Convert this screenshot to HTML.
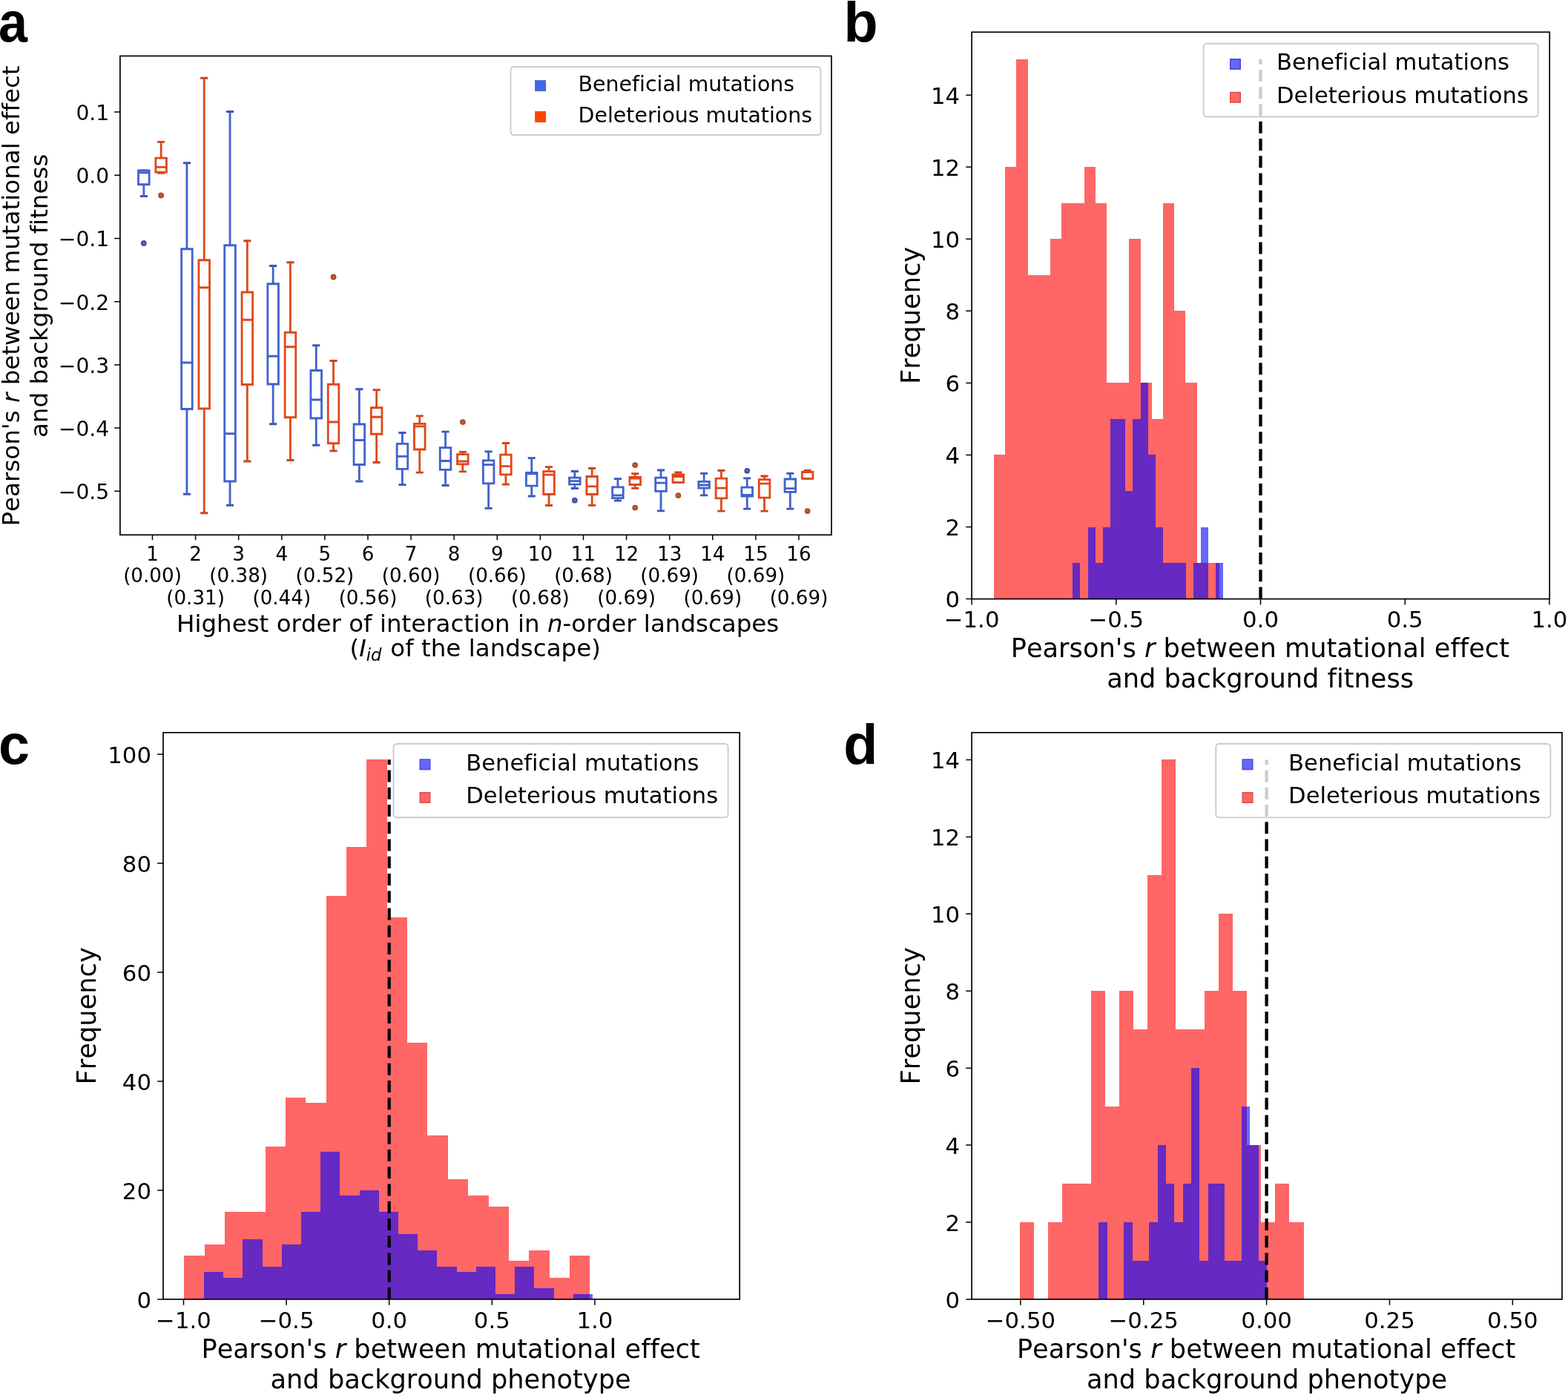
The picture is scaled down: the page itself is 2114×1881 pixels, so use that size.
<!DOCTYPE html>
<html lang="en"><head><meta charset="utf-8"><title>Figure: correlation between mutational effect and background fitness</title>
<style>html,body{margin:0;padding:0;background:#fff}body{width:2114px;height:1881px;overflow:hidden}svg{display:block}text{font-family:'DejaVu Sans','Liberation Sans',sans-serif;fill:#000;font-variant-ligatures:none;font-kerning:none}</style>
</head><body>
<svg width="2114" height="1881" viewBox="0 0 2114 1881">
<rect width="2114" height="1881" fill="#fff"/>
<g id="panel-a">
<g fill="none" stroke-linecap="square" stroke-linejoin="miter">
<path d="M190.20 229.80H197.50M190.20 264.50H197.50M248.30 219.75H255.60M248.30 666.25H255.60M306.40 150.50H313.70M306.40 681.25H313.70M364.50 358.50H371.80M364.50 571.75H371.80M422.60 465.75H429.90M422.60 600.25H429.90M480.70 524.75H488.00M480.70 649.00H488.00M538.80 583.50H546.10M538.80 653.70H546.10M596.90 582.20H604.20M596.90 654.50H604.20M655.00 608.80H662.30M655.00 685.30H662.30M713.10 617.70H720.40M713.10 669.00H720.40M771.20 635.50H778.50M771.20 658.50H778.50M829.30 645.60H836.60M829.30 675.10H836.60M887.40 634.00H894.70M887.40 688.80H894.70M945.50 638.30H952.80M945.50 667.80H952.80M1003.60 644.90H1010.90M1003.60 686.20H1010.90M1061.70 638.30H1069.00M1061.70 686.20H1069.00" stroke="#3a56b6" stroke-width="2.8"/>
<path d="M193.85 248.75V264.50M251.95 219.75V335.75M251.95 551.50V666.25M310.05 150.50V330.75M310.05 649.00V681.25M368.15 358.50V382.75M368.15 518.00V571.75M426.25 465.75V499.50M426.25 564.00V600.25M484.35 524.75V572.00M484.35 626.50V649.00M542.45 583.50V598.40M542.45 632.40V653.70M600.55 582.20V603.60M600.55 633.40V654.50M658.65 608.80V620.90M658.65 651.80V685.30M716.75 617.70V637.30M716.75 655.20V669.00M774.85 635.50V644.10M774.85 653.10V658.50M832.95 645.60V656.80M832.95 671.70V675.10M891.05 634.00V644.10M891.05 662.30V688.80M949.15 638.30V649.30M949.15 658.20V667.80M1007.25 644.90V657.10M1007.25 669.00V686.20M1065.35 638.30V646.00M1065.35 663.40V686.20" stroke="#4062cc" stroke-width="2.8" stroke-linecap="butt"/>
<path d="M186.55 229.80H201.15V248.75H186.55ZM186.55 232.90H201.15M244.65 335.75H259.25V551.50H244.65ZM244.65 489.00H259.25M302.75 330.75H317.35V649.00H302.75ZM302.75 584.75H317.35M360.85 382.75H375.45V518.00H360.85ZM360.85 480.25H375.45M418.95 499.50H433.55V564.00H418.95ZM418.95 539.00H433.55M477.05 572.00H491.65V626.50H477.05ZM477.05 593.50H491.65M535.15 598.40H549.75V632.40H535.15ZM535.15 615.30H549.75M593.25 603.60H607.85V633.40H593.25ZM593.25 621.50H607.85M651.35 620.90H665.95V651.80H651.35ZM651.35 626.70H665.95M709.45 637.30H724.05V655.20H709.45ZM709.45 638.90H724.05M767.55 644.10H782.15V653.10H767.55ZM767.55 648.70H782.15M825.65 656.80H840.25V671.70H825.65ZM825.65 667.80H840.25M883.75 644.10H898.35V662.30H883.75ZM883.75 651.20H898.35M941.85 649.30H956.45V658.20H941.85ZM941.85 654.00H956.45M999.95 657.10H1014.55V669.00H999.95ZM999.95 667.40H1014.55M1058.05 646.00H1072.65V663.40H1058.05ZM1058.05 658.70H1072.65" stroke="#4062cc" stroke-width="2.8"/>
<circle cx="193.85" cy="327.90" r="2.7" fill="#6074bc" stroke="#4052a8" stroke-width="2.4"/>
<circle cx="774.85" cy="674.70" r="2.7" fill="#6074bc" stroke="#4052a8" stroke-width="2.4"/>
<circle cx="1007.25" cy="634.80" r="2.7" fill="#6074bc" stroke="#4052a8" stroke-width="2.4"/>
<path d="M213.50 191.30H220.80M213.50 233.30H220.80M271.60 105.25H278.90M271.60 691.75H278.90M329.70 324.75H337.00M329.70 622.00H337.00M387.80 353.75H395.10M387.80 620.50H395.10M445.90 486.50H453.20M445.90 608.00H453.20M504.00 525.75H511.30M504.00 623.50H511.30M562.10 560.80H569.40M562.10 637.10H569.40M620.20 609.30H627.50M620.20 635.80H627.50M678.30 597.50H685.60M678.30 653.10H685.60M736.40 629.60H743.70M736.40 681.50H743.70M794.50 631.50H801.80M794.50 681.30H801.80M852.60 638.70H859.90M852.60 658.40H859.90M910.70 637.00H918.00M910.70 650.70H918.00M968.80 634.50H976.10M968.80 689.20H976.10M1026.90 642.00H1034.20M1026.90 689.20H1034.20M1085.00 634.40H1092.30M1085.00 645.30H1092.30" stroke="#c8461a" stroke-width="2.8"/>
<path d="M217.15 191.30V213.20M217.15 232.20V233.30M275.25 105.25V350.75M275.25 551.00V691.75M333.35 324.75V394.00M333.35 518.50V622.00M391.45 353.75V448.25M391.45 562.75V620.50M449.55 486.50V518.25M449.55 597.75V608.00M507.65 525.75V549.75M507.65 585.25V623.50M565.75 560.80V571.30M565.75 606.00V637.10M623.85 609.30V612.60M623.85 625.90V635.80M681.95 597.50V613.10M681.95 639.80V653.10M740.05 629.60V635.70M740.05 666.50V681.50M798.15 631.50V642.50M798.15 666.50V681.30M856.25 638.70V643.40M856.25 653.50V658.40M914.35 637.00V639.80M972.45 634.50V645.10M972.45 671.90V689.20M1030.55 642.00V646.70M1030.55 671.20V689.20M1088.65 634.40V636.30" stroke="#e04818" stroke-width="2.8" stroke-linecap="butt"/>
<path d="M209.85 213.20H224.45V232.20H209.85ZM209.85 225.30H224.45M267.95 350.75H282.55V551.00H267.95ZM267.95 387.75H282.55M326.05 394.00H340.65V518.50H326.05ZM326.05 431.25H340.65M384.15 448.25H398.75V562.75H384.15ZM384.15 467.75H398.75M442.25 518.25H456.85V597.75H442.25ZM442.25 569.00H456.85M500.35 549.75H514.95V585.25H500.35ZM500.35 562.25H514.95M558.45 571.30H573.05V606.00H558.45ZM558.45 574.80H573.05M616.55 612.60H631.15V625.90H616.55ZM616.55 622.00H631.15M674.65 613.10H689.25V639.80H674.65ZM674.65 628.70H689.25M732.75 635.70H747.35V666.50H732.75ZM732.75 640.20H747.35M790.85 642.50H805.45V666.50H790.85ZM790.85 655.90H805.45M848.95 643.40H863.55V653.50H848.95ZM848.95 645.00H863.55M907.05 639.80H921.65V650.70H907.05ZM907.05 642.60H921.65M965.15 645.10H979.75V671.90H965.15ZM965.15 658.20H979.75M1023.25 646.70H1037.85V671.20H1023.25ZM1023.25 652.10H1037.85M1081.35 636.30H1095.95V645.30H1081.35ZM1081.35 636.50H1095.95" stroke="#e04818" stroke-width="2.8"/>
<circle cx="217.15" cy="263.50" r="2.7" fill="#c8643c" stroke="#b04c28" stroke-width="2.4"/>
<circle cx="449.55" cy="373.50" r="2.7" fill="#c8643c" stroke="#b04c28" stroke-width="2.4"/>
<circle cx="623.85" cy="569.10" r="2.7" fill="#c8643c" stroke="#b04c28" stroke-width="2.4"/>
<circle cx="856.25" cy="627.05" r="2.7" fill="#c8643c" stroke="#b04c28" stroke-width="2.4"/>
<circle cx="856.25" cy="684.60" r="2.7" fill="#c8643c" stroke="#b04c28" stroke-width="2.4"/>
<circle cx="914.35" cy="668.10" r="2.7" fill="#c8643c" stroke="#b04c28" stroke-width="2.4"/>
<circle cx="1088.65" cy="689.05" r="2.7" fill="#c8643c" stroke="#b04c28" stroke-width="2.4"/>
</g>
<rect x="161.90" y="75.50" width="959.10" height="645.75" fill="none" stroke="#000" stroke-width="1.7"/>
<path d="M205.50 721.25v6.9M263.60 721.25v6.9M321.70 721.25v6.9M379.80 721.25v6.9M437.90 721.25v6.9M496.00 721.25v6.9M554.10 721.25v6.9M612.20 721.25v6.9M670.30 721.25v6.9M728.40 721.25v6.9M786.50 721.25v6.9M844.60 721.25v6.9M902.70 721.25v6.9M960.80 721.25v6.9M1018.90 721.25v6.9M1077.00 721.25v6.9" stroke="#000" stroke-width="1.5" fill="none"/>
<path d="M161.90 151.10h-7.7M161.90 236.30h-7.7M161.90 321.50h-7.7M161.90 406.70h-7.7M161.90 491.90h-7.7M161.90 577.10h-7.7M161.90 662.30h-7.7" stroke="#000" stroke-width="1.5" fill="none"/>
<text x="205.50" y="755.80" font-size="26.20" text-anchor="middle">1</text>
<text x="205.50" y="785.40" font-size="26.20" text-anchor="middle">(0.00)</text>
<text x="263.60" y="755.80" font-size="26.20" text-anchor="middle">2</text>
<text x="263.60" y="815.00" font-size="26.20" text-anchor="middle">(0.31)</text>
<text x="321.70" y="755.80" font-size="26.20" text-anchor="middle">3</text>
<text x="321.70" y="785.40" font-size="26.20" text-anchor="middle">(0.38)</text>
<text x="379.80" y="755.80" font-size="26.20" text-anchor="middle">4</text>
<text x="379.80" y="815.00" font-size="26.20" text-anchor="middle">(0.44)</text>
<text x="437.90" y="755.80" font-size="26.20" text-anchor="middle">5</text>
<text x="437.90" y="785.40" font-size="26.20" text-anchor="middle">(0.52)</text>
<text x="496.00" y="755.80" font-size="26.20" text-anchor="middle">6</text>
<text x="496.00" y="815.00" font-size="26.20" text-anchor="middle">(0.56)</text>
<text x="554.10" y="755.80" font-size="26.20" text-anchor="middle">7</text>
<text x="554.10" y="785.40" font-size="26.20" text-anchor="middle">(0.60)</text>
<text x="612.20" y="755.80" font-size="26.20" text-anchor="middle">8</text>
<text x="612.20" y="815.00" font-size="26.20" text-anchor="middle">(0.63)</text>
<text x="670.30" y="755.80" font-size="26.20" text-anchor="middle">9</text>
<text x="670.30" y="785.40" font-size="26.20" text-anchor="middle">(0.66)</text>
<text x="728.40" y="755.80" font-size="26.20" text-anchor="middle">10</text>
<text x="728.40" y="815.00" font-size="26.20" text-anchor="middle">(0.68)</text>
<text x="786.50" y="755.80" font-size="26.20" text-anchor="middle">11</text>
<text x="786.50" y="785.40" font-size="26.20" text-anchor="middle">(0.68)</text>
<text x="844.60" y="755.80" font-size="26.20" text-anchor="middle">12</text>
<text x="844.60" y="815.00" font-size="26.20" text-anchor="middle">(0.69)</text>
<text x="902.70" y="755.80" font-size="26.20" text-anchor="middle">13</text>
<text x="902.70" y="785.40" font-size="26.20" text-anchor="middle">(0.69)</text>
<text x="960.80" y="755.80" font-size="26.20" text-anchor="middle">14</text>
<text x="960.80" y="815.00" font-size="26.20" text-anchor="middle">(0.69)</text>
<text x="1018.90" y="755.80" font-size="26.20" text-anchor="middle">15</text>
<text x="1018.90" y="785.40" font-size="26.20" text-anchor="middle">(0.69)</text>
<text x="1077.00" y="755.80" font-size="26.20" text-anchor="middle">16</text>
<text x="1077.00" y="815.00" font-size="26.20" text-anchor="middle">(0.69)</text>
<text x="147.25" y="162.00" font-size="28.20" text-anchor="end">0.1</text>
<text x="147.25" y="247.20" font-size="28.20" text-anchor="end">0.0</text>
<text x="147.25" y="332.40" font-size="28.20" text-anchor="end">−0.1</text>
<text x="147.25" y="417.60" font-size="28.20" text-anchor="end">−0.2</text>
<text x="147.25" y="502.80" font-size="28.20" text-anchor="end">−0.3</text>
<text x="147.25" y="588.00" font-size="28.20" text-anchor="end">−0.4</text>
<text x="147.25" y="673.20" font-size="28.20" text-anchor="end">−0.5</text>
<text x="644.15" y="851.50" font-size="32.50" text-anchor="middle">Highest order of interaction in <tspan font-style="italic">n</tspan>-order landscapes</text>
<text x="640.70" y="885.30" font-size="32.50" text-anchor="middle">(<tspan font-style="italic">I</tspan><tspan font-style="italic" font-size="22.75" dy="5.20">id</tspan><tspan dy="-5.20" dx="1.5"> of the landscape)</tspan></text>
<text transform="translate(25.60 398.98) rotate(-90)" font-size="32.50" text-anchor="middle">Pearson's <tspan font-style="italic">r</tspan> between mutational effect</text>
<text transform="translate(64.00 398.88) rotate(-90)" font-size="32.50" text-anchor="middle">and background fitness</text>
<rect x="688.50" y="90.00" width="418.00" height="92.00" rx="4.4" ry="4.4" fill="#fff" fill-opacity="0.8" stroke="#ccc" stroke-width="1.9"/>
<rect x="721.10" y="108.10" width="15.00" height="15.00" fill="#4169e1"/>
<text x="779.60" y="123.10" font-size="28.40" text-anchor="start">Beneficial mutations</text>
<rect x="721.10" y="150.00" width="15.00" height="15.00" fill="#ff4500"/>
<text x="779.60" y="164.80" font-size="28.40" text-anchor="start">Deleterious mutations</text>
</g>
<g id="panel-b">
<g>
<path d="M1340.00 807.60V613.48H1355.20V807.60ZM1355.20 807.60V225.24H1370.40V807.60ZM1370.40 807.60V79.65H1385.60V807.60ZM1385.60 807.60V370.83H1400.80V807.60ZM1400.80 807.60V370.83H1416.00V807.60ZM1416.00 807.60V322.30H1431.20V807.60ZM1431.20 807.60V273.77H1446.40V807.60ZM1446.40 807.60V273.77H1461.60V807.60ZM1461.60 807.60V225.24H1476.80V807.60ZM1476.80 807.60V273.77H1492.00V807.60ZM1492.00 807.60V516.42H1507.20V807.60ZM1507.20 807.60V516.42H1522.40V807.60ZM1522.40 807.60V322.30H1537.60V807.60ZM1537.60 807.60V516.42H1552.80V807.60ZM1552.80 807.60V564.95H1568.00V807.60ZM1568.00 807.60V273.77H1583.20V807.60ZM1583.20 807.60V419.36H1598.40V807.60ZM1598.40 807.60V516.42H1613.60V807.60ZM1613.60 807.60V759.07H1628.80V807.60ZM1628.80 807.60V759.07H1644.00V807.60Z" fill="#ff0000" fill-opacity="0.6" stroke="none" shape-rendering="crispEdges"/>
<path d="M1446.25 807.60V759.07H1456.40V807.60ZM1466.55 807.60V710.54H1476.70V807.60ZM1476.70 807.60V759.07H1486.85V807.60ZM1486.85 807.60V710.54H1497.00V807.60ZM1497.00 807.60V564.95H1507.15V807.60ZM1507.15 807.60V564.95H1517.30V807.60ZM1517.30 807.60V662.01H1527.45V807.60ZM1527.45 807.60V564.95H1537.60V807.60ZM1537.60 807.60V516.42H1547.75V807.60ZM1547.75 807.60V613.48H1557.90V807.60ZM1557.90 807.60V710.54H1568.05V807.60ZM1568.05 807.60V759.07H1578.20V807.60ZM1578.20 807.60V759.07H1588.35V807.60ZM1588.35 807.60V759.07H1598.50V807.60ZM1608.65 807.60V759.07H1618.80V807.60ZM1618.80 807.60V710.54H1628.95V807.60ZM1639.10 807.60V759.07H1649.25V807.60Z" fill="#0000ff" fill-opacity="0.6" stroke="none" shape-rendering="crispEdges"/>
</g>
<path d="M1699.50 807.60V79.65" stroke="#000" stroke-width="4.3" stroke-dasharray="16.0 7.25" fill="none"/>
<rect x="1310.10" y="43.30" width="779.10" height="764.30" fill="none" stroke="#000" stroke-width="1.7"/>
<path d="M1310.10 807.60v7.8M1504.80 807.60v7.8M1699.50 807.60v7.8M1894.20 807.60v7.8M2088.90 807.60v7.8" stroke="#000" stroke-width="1.5" fill="none"/>
<path d="M1310.10 807.60h-7.8M1310.10 710.54h-7.8M1310.10 613.48h-7.8M1310.10 516.42h-7.8M1310.10 419.36h-7.8M1310.10 322.30h-7.8M1310.10 225.24h-7.8M1310.10 128.18h-7.8" stroke="#000" stroke-width="1.5" fill="none"/>
<text x="1310.10" y="846.20" font-size="30.80" text-anchor="middle">−1.0</text>
<text x="1504.80" y="846.20" font-size="30.80" text-anchor="middle">−0.5</text>
<text x="1699.50" y="846.20" font-size="30.80" text-anchor="middle">0.0</text>
<text x="1894.20" y="846.20" font-size="30.80" text-anchor="middle">0.5</text>
<text x="2088.90" y="846.20" font-size="30.80" text-anchor="middle">1.0</text>
<text x="1294.10" y="819.40" font-size="30.80" text-anchor="end">0</text>
<text x="1294.10" y="722.34" font-size="30.80" text-anchor="end">2</text>
<text x="1294.10" y="625.28" font-size="30.80" text-anchor="end">4</text>
<text x="1294.10" y="528.22" font-size="30.80" text-anchor="end">6</text>
<text x="1294.10" y="431.16" font-size="30.80" text-anchor="end">8</text>
<text x="1294.10" y="334.10" font-size="30.80" text-anchor="end">10</text>
<text x="1294.10" y="237.04" font-size="30.80" text-anchor="end">12</text>
<text x="1294.10" y="139.98" font-size="30.80" text-anchor="end">14</text>
<text x="1698.85" y="886.00" font-size="35.20" text-anchor="middle">Pearson's <tspan font-style="italic">r</tspan> between mutational effect</text>
<text x="1699.15" y="927.00" font-size="35.20" text-anchor="middle">and background fitness</text>
<text transform="translate(1239.50 425.45) rotate(-90)" font-size="35.20" text-anchor="middle">Frequency</text>
<rect x="1622.60" y="58.80" width="451.10" height="98.70" rx="4.4" ry="4.4" fill="#fff" fill-opacity="0.8" stroke="#ccc" stroke-width="1.9"/>
<rect x="1658.80" y="79.80" width="13.40" height="13.40" fill="#6666ff" stroke="#4a4ae0" stroke-width="1.6"/>
<text x="1721.00" y="94.30" font-size="30.60" text-anchor="start">Beneficial mutations</text>
<rect x="1658.80" y="124.60" width="13.40" height="13.40" fill="#ff6666" stroke="#e04a4a" stroke-width="1.6"/>
<text x="1721.00" y="139.00" font-size="30.60" text-anchor="start">Deleterious mutations</text>
</g>
<g id="panel-c">
<g>
<path d="M248.25 1751.90V1693.10H275.60V1751.90ZM275.60 1751.90V1678.40H302.95V1751.90ZM302.95 1751.90V1634.30H330.30V1751.90ZM330.30 1751.90V1634.30H357.65V1751.90ZM357.65 1751.90V1546.10H385.00V1751.90ZM385.00 1751.90V1479.95H412.35V1751.90ZM412.35 1751.90V1487.30H439.70V1751.90ZM439.70 1751.90V1208.00H467.05V1751.90ZM467.05 1751.90V1141.85H494.40V1751.90ZM494.40 1751.90V1024.25H521.75V1751.90ZM521.75 1751.90V1237.40H549.10V1751.90ZM549.10 1751.90V1406.45H576.45V1751.90ZM576.45 1751.90V1531.40H603.80V1751.90ZM603.80 1751.90V1590.20H631.15V1751.90ZM631.15 1751.90V1612.25H658.50V1751.90ZM658.50 1751.90V1626.95H685.85V1751.90ZM685.85 1751.90V1700.45H713.20V1751.90ZM713.20 1751.90V1685.75H740.55V1751.90ZM740.55 1751.90V1722.50H767.90V1751.90ZM767.90 1751.90V1693.10H795.25V1751.90Z" fill="#ff0000" fill-opacity="0.6" stroke="none" shape-rendering="crispEdges"/>
<path d="M275.00 1751.90V1715.15H301.20V1751.90ZM301.20 1751.90V1722.50H327.40V1751.90ZM327.40 1751.90V1671.05H353.60V1751.90ZM353.60 1751.90V1707.80H379.80V1751.90ZM379.80 1751.90V1678.40H406.00V1751.90ZM406.00 1751.90V1634.30H432.20V1751.90ZM432.20 1751.90V1553.45H458.40V1751.90ZM458.40 1751.90V1612.25H484.60V1751.90ZM484.60 1751.90V1604.90H510.80V1751.90ZM510.80 1751.90V1634.30H537.00V1751.90ZM537.00 1751.90V1663.70H563.20V1751.90ZM563.20 1751.90V1685.75H589.40V1751.90ZM589.40 1751.90V1707.80H615.60V1751.90ZM615.60 1751.90V1715.15H641.80V1751.90ZM641.80 1751.90V1707.80H668.00V1751.90ZM668.00 1751.90V1744.55H694.20V1751.90ZM694.20 1751.90V1707.80H720.40V1751.90ZM720.40 1751.90V1737.20H746.60V1751.90ZM772.80 1751.90V1744.55H799.00V1751.90Z" fill="#0000ff" fill-opacity="0.6" stroke="none" shape-rendering="crispEdges"/>
</g>
<path d="M524.70 1751.90V1024.25" stroke="#000" stroke-width="4.3" stroke-dasharray="16.0 7.25" fill="none"/>
<rect x="220.00" y="987.80" width="777.20" height="764.10" fill="none" stroke="#000" stroke-width="1.7"/>
<path d="M247.50 1751.90v7.8M386.10 1751.90v7.8M524.70 1751.90v7.8M663.30 1751.90v7.8M801.90 1751.90v7.8" stroke="#000" stroke-width="1.5" fill="none"/>
<path d="M220.00 1751.90h-7.8M220.00 1604.90h-7.8M220.00 1457.90h-7.8M220.00 1310.90h-7.8M220.00 1163.90h-7.8M220.00 1016.90h-7.8" stroke="#000" stroke-width="1.5" fill="none"/>
<text x="247.50" y="1790.50" font-size="30.80" text-anchor="middle">−1.0</text>
<text x="386.10" y="1790.50" font-size="30.80" text-anchor="middle">−0.5</text>
<text x="524.70" y="1790.50" font-size="30.80" text-anchor="middle">0.0</text>
<text x="663.30" y="1790.50" font-size="30.80" text-anchor="middle">0.5</text>
<text x="801.90" y="1790.50" font-size="30.80" text-anchor="middle">1.0</text>
<text x="204.00" y="1763.70" font-size="30.80" text-anchor="end">0</text>
<text x="204.00" y="1616.70" font-size="30.80" text-anchor="end">20</text>
<text x="204.00" y="1469.70" font-size="30.80" text-anchor="end">40</text>
<text x="204.00" y="1322.70" font-size="30.80" text-anchor="end">60</text>
<text x="204.00" y="1175.70" font-size="30.80" text-anchor="end">80</text>
<text x="204.00" y="1028.70" font-size="30.80" text-anchor="end">100</text>
<text x="607.60" y="1830.50" font-size="35.20" text-anchor="middle">Pearson's <tspan font-style="italic">r</tspan> between mutational effect</text>
<text x="607.60" y="1871.50" font-size="35.20" text-anchor="middle">and background phenotype</text>
<text transform="translate(129.40 1369.85) rotate(-90)" font-size="35.20" text-anchor="middle">Frequency</text>
<rect x="530.50" y="1003.00" width="451.10" height="99.20" rx="4.4" ry="4.4" fill="#fff" fill-opacity="0.8" stroke="#ccc" stroke-width="1.9"/>
<rect x="566.30" y="1024.10" width="13.40" height="13.40" fill="#6666ff" stroke="#4a4ae0" stroke-width="1.6"/>
<text x="628.30" y="1038.50" font-size="30.60" text-anchor="start">Beneficial mutations</text>
<rect x="566.30" y="1068.80" width="13.40" height="13.40" fill="#ff6666" stroke="#e04a4a" stroke-width="1.6"/>
<text x="628.30" y="1083.00" font-size="30.60" text-anchor="start">Deleterious mutations</text>
</g>
<g id="panel-d">
<g>
<path d="M1375.00 1751.90V1647.98H1394.13V1751.90ZM1413.26 1751.90V1647.98H1432.39V1751.90ZM1432.39 1751.90V1596.02H1451.52V1751.90ZM1451.52 1751.90V1596.02H1470.65V1751.90ZM1470.65 1751.90V1336.22H1489.78V1751.90ZM1489.78 1751.90V1492.10H1508.91V1751.90ZM1508.91 1751.90V1336.22H1528.04V1751.90ZM1528.04 1751.90V1388.18H1547.17V1751.90ZM1547.17 1751.90V1180.34H1566.30V1751.90ZM1566.30 1751.90V1024.46H1585.43V1751.90ZM1585.43 1751.90V1388.18H1604.56V1751.90ZM1604.56 1751.90V1388.18H1623.69V1751.90ZM1623.69 1751.90V1336.22H1642.82V1751.90ZM1642.82 1751.90V1232.30H1661.95V1751.90ZM1661.95 1751.90V1336.22H1681.08V1751.90ZM1681.08 1751.90V1544.06H1700.21V1751.90ZM1700.21 1751.90V1647.98H1719.34V1751.90ZM1719.34 1751.90V1596.02H1738.47V1751.90ZM1738.47 1751.90V1647.98H1757.60V1751.90Z" fill="#ff0000" fill-opacity="0.6" stroke="none" shape-rendering="crispEdges"/>
<path d="M1481.25 1751.90V1647.98H1492.59V1751.90ZM1515.27 1751.90V1647.98H1526.61V1751.90ZM1526.61 1751.90V1699.94H1537.95V1751.90ZM1537.95 1751.90V1699.94H1549.29V1751.90ZM1549.29 1751.90V1647.98H1560.63V1751.90ZM1560.63 1751.90V1544.06H1571.97V1751.90ZM1571.97 1751.90V1596.02H1583.31V1751.90ZM1583.31 1751.90V1647.98H1594.65V1751.90ZM1594.65 1751.90V1596.02H1605.99V1751.90ZM1605.99 1751.90V1440.14H1617.33V1751.90ZM1617.33 1751.90V1699.94H1628.67V1751.90ZM1628.67 1751.90V1596.02H1640.01V1751.90ZM1640.01 1751.90V1596.02H1651.35V1751.90ZM1651.35 1751.90V1699.94H1662.69V1751.90ZM1662.69 1751.90V1699.94H1674.03V1751.90ZM1674.03 1751.90V1492.10H1685.37V1751.90ZM1685.37 1751.90V1544.06H1696.71V1751.90ZM1696.71 1751.90V1699.94H1708.05V1751.90Z" fill="#0000ff" fill-opacity="0.6" stroke="none" shape-rendering="crispEdges"/>
</g>
<path d="M1707.60 1751.90V1024.46" stroke="#000" stroke-width="4.3" stroke-dasharray="16.0 7.25" fill="none"/>
<rect x="1310.10" y="987.80" width="795.90" height="764.10" fill="none" stroke="#000" stroke-width="1.7"/>
<path d="M1375.90 1751.90v7.8M1541.75 1751.90v7.8M1707.60 1751.90v7.8M1873.45 1751.90v7.8M2039.30 1751.90v7.8" stroke="#000" stroke-width="1.5" fill="none"/>
<path d="M1310.10 1751.90h-7.8M1310.10 1647.98h-7.8M1310.10 1544.06h-7.8M1310.10 1440.14h-7.8M1310.10 1336.22h-7.8M1310.10 1232.30h-7.8M1310.10 1128.38h-7.8M1310.10 1024.46h-7.8" stroke="#000" stroke-width="1.5" fill="none"/>
<text x="1375.90" y="1790.50" font-size="30.80" text-anchor="middle">−0.50</text>
<text x="1541.75" y="1790.50" font-size="30.80" text-anchor="middle">−0.25</text>
<text x="1707.60" y="1790.50" font-size="30.80" text-anchor="middle">0.00</text>
<text x="1873.45" y="1790.50" font-size="30.80" text-anchor="middle">0.25</text>
<text x="2039.30" y="1790.50" font-size="30.80" text-anchor="middle">0.50</text>
<text x="1294.10" y="1763.70" font-size="30.80" text-anchor="end">0</text>
<text x="1294.10" y="1659.78" font-size="30.80" text-anchor="end">2</text>
<text x="1294.10" y="1555.86" font-size="30.80" text-anchor="end">4</text>
<text x="1294.10" y="1451.94" font-size="30.80" text-anchor="end">6</text>
<text x="1294.10" y="1348.02" font-size="30.80" text-anchor="end">8</text>
<text x="1294.10" y="1244.10" font-size="30.80" text-anchor="end">10</text>
<text x="1294.10" y="1140.18" font-size="30.80" text-anchor="end">12</text>
<text x="1294.10" y="1036.26" font-size="30.80" text-anchor="end">14</text>
<text x="1707.05" y="1830.50" font-size="35.20" text-anchor="middle">Pearson's <tspan font-style="italic">r</tspan> between mutational effect</text>
<text x="1708.05" y="1871.50" font-size="35.20" text-anchor="middle">and background phenotype</text>
<text transform="translate(1239.50 1369.85) rotate(-90)" font-size="35.20" text-anchor="middle">Frequency</text>
<rect x="1639.30" y="1003.00" width="451.10" height="99.40" rx="4.4" ry="4.4" fill="#fff" fill-opacity="0.8" stroke="#ccc" stroke-width="1.9"/>
<rect x="1675.30" y="1024.10" width="13.40" height="13.40" fill="#6666ff" stroke="#4a4ae0" stroke-width="1.6"/>
<text x="1737.10" y="1038.50" font-size="30.60" text-anchor="start">Beneficial mutations</text>
<rect x="1675.30" y="1068.80" width="13.40" height="13.40" fill="#ff6666" stroke="#e04a4a" stroke-width="1.6"/>
<text x="1737.10" y="1083.00" font-size="30.60" text-anchor="start">Deleterious mutations</text>
</g>
<text transform="translate(-2.00 55.60) scale(0.93 1)" style="font-family:'Liberation Sans','DejaVu Sans',sans-serif;font-weight:bold;font-size:75.50px">a</text>
<text transform="translate(1137.60 56.20) scale(1.0 1)" style="font-family:'Liberation Sans','DejaVu Sans',sans-serif;font-weight:bold;font-size:75.50px">b</text>
<text transform="translate(-2.00 1030.20) scale(1.0 1)" style="font-family:'Liberation Sans','DejaVu Sans',sans-serif;font-weight:bold;font-size:75.50px">c</text>
<text transform="translate(1137.20 1030.00) scale(1.0 1)" style="font-family:'Liberation Sans','DejaVu Sans',sans-serif;font-weight:bold;font-size:75.50px">d</text>
</svg></body></html>
